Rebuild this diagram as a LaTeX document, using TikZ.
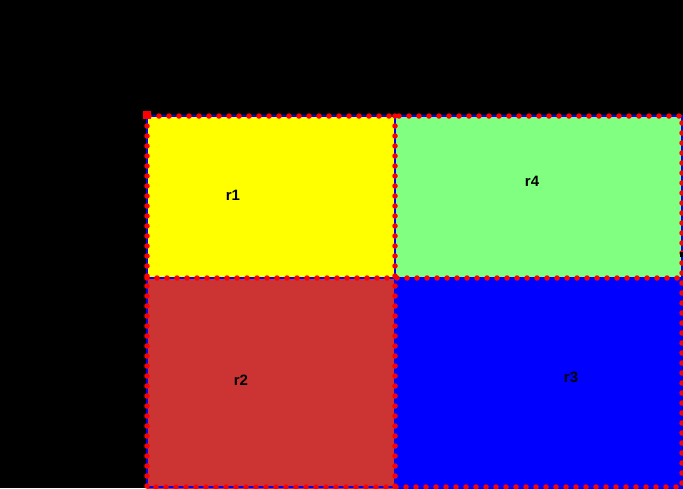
\documentclass[tikz,border=0pt]{standalone}
\usepackage{fontspec}
\setmainfont{Liberation Sans}
\definecolor{lgreen}{RGB}{128,255,128}
\definecolor{bred}{RGB}{204,51,51}
\definecolor{pyellow}{RGB}{255,255,0}
\begin{document}
\begin{tikzpicture}[x=1pt,y=-1pt,
  region/.style={draw=blue,line width=1.5pt},
  dots/.style={draw=red,line width=5.5pt,line cap=round,dash pattern=on 0pt off 10pt},
  lbl/.style={font=\fontsize{15}{17}\selectfont\bfseries,text=black}]
\useasboundingbox (0,0) rectangle (683,488);
\fill[black] (0,0) rectangle (683,488);
\begin{scope}
\clip (0,0) rectangle (683,488);
\fill[pyellow] (147,116) rectangle (395,278);
\fill[lgreen] (395,116) rectangle (683,278);
\fill[bred] (147,278) rectangle (395,490);
\fill[blue] (395,278) rectangle (690,490);
\draw[region] (147,116) rectangle (395,278);
\draw[region] (395,116) rectangle (682,278);
\draw[region] (147,278) rectangle (395,487);
\draw[region] (395,278) rectangle (682,487);
\draw[dots] (147,116) rectangle (682,487);
\draw[dots] (395,116) -- (395,487);
\draw[dots] (147,278) -- (682,278);
\fill[red] (143,111) rectangle (151,119);
\fill[black] (680,252) rectangle (683,257);
\end{scope}
\node[lbl] (r1) at (233,195) {r1};
\node[lbl] (r4) at (532,181) {r4};
\node[lbl] (r2) at (241,380) {r2};
\node[lbl] (r3) at (571,377) {r3};
\end{tikzpicture}
\end{document}
